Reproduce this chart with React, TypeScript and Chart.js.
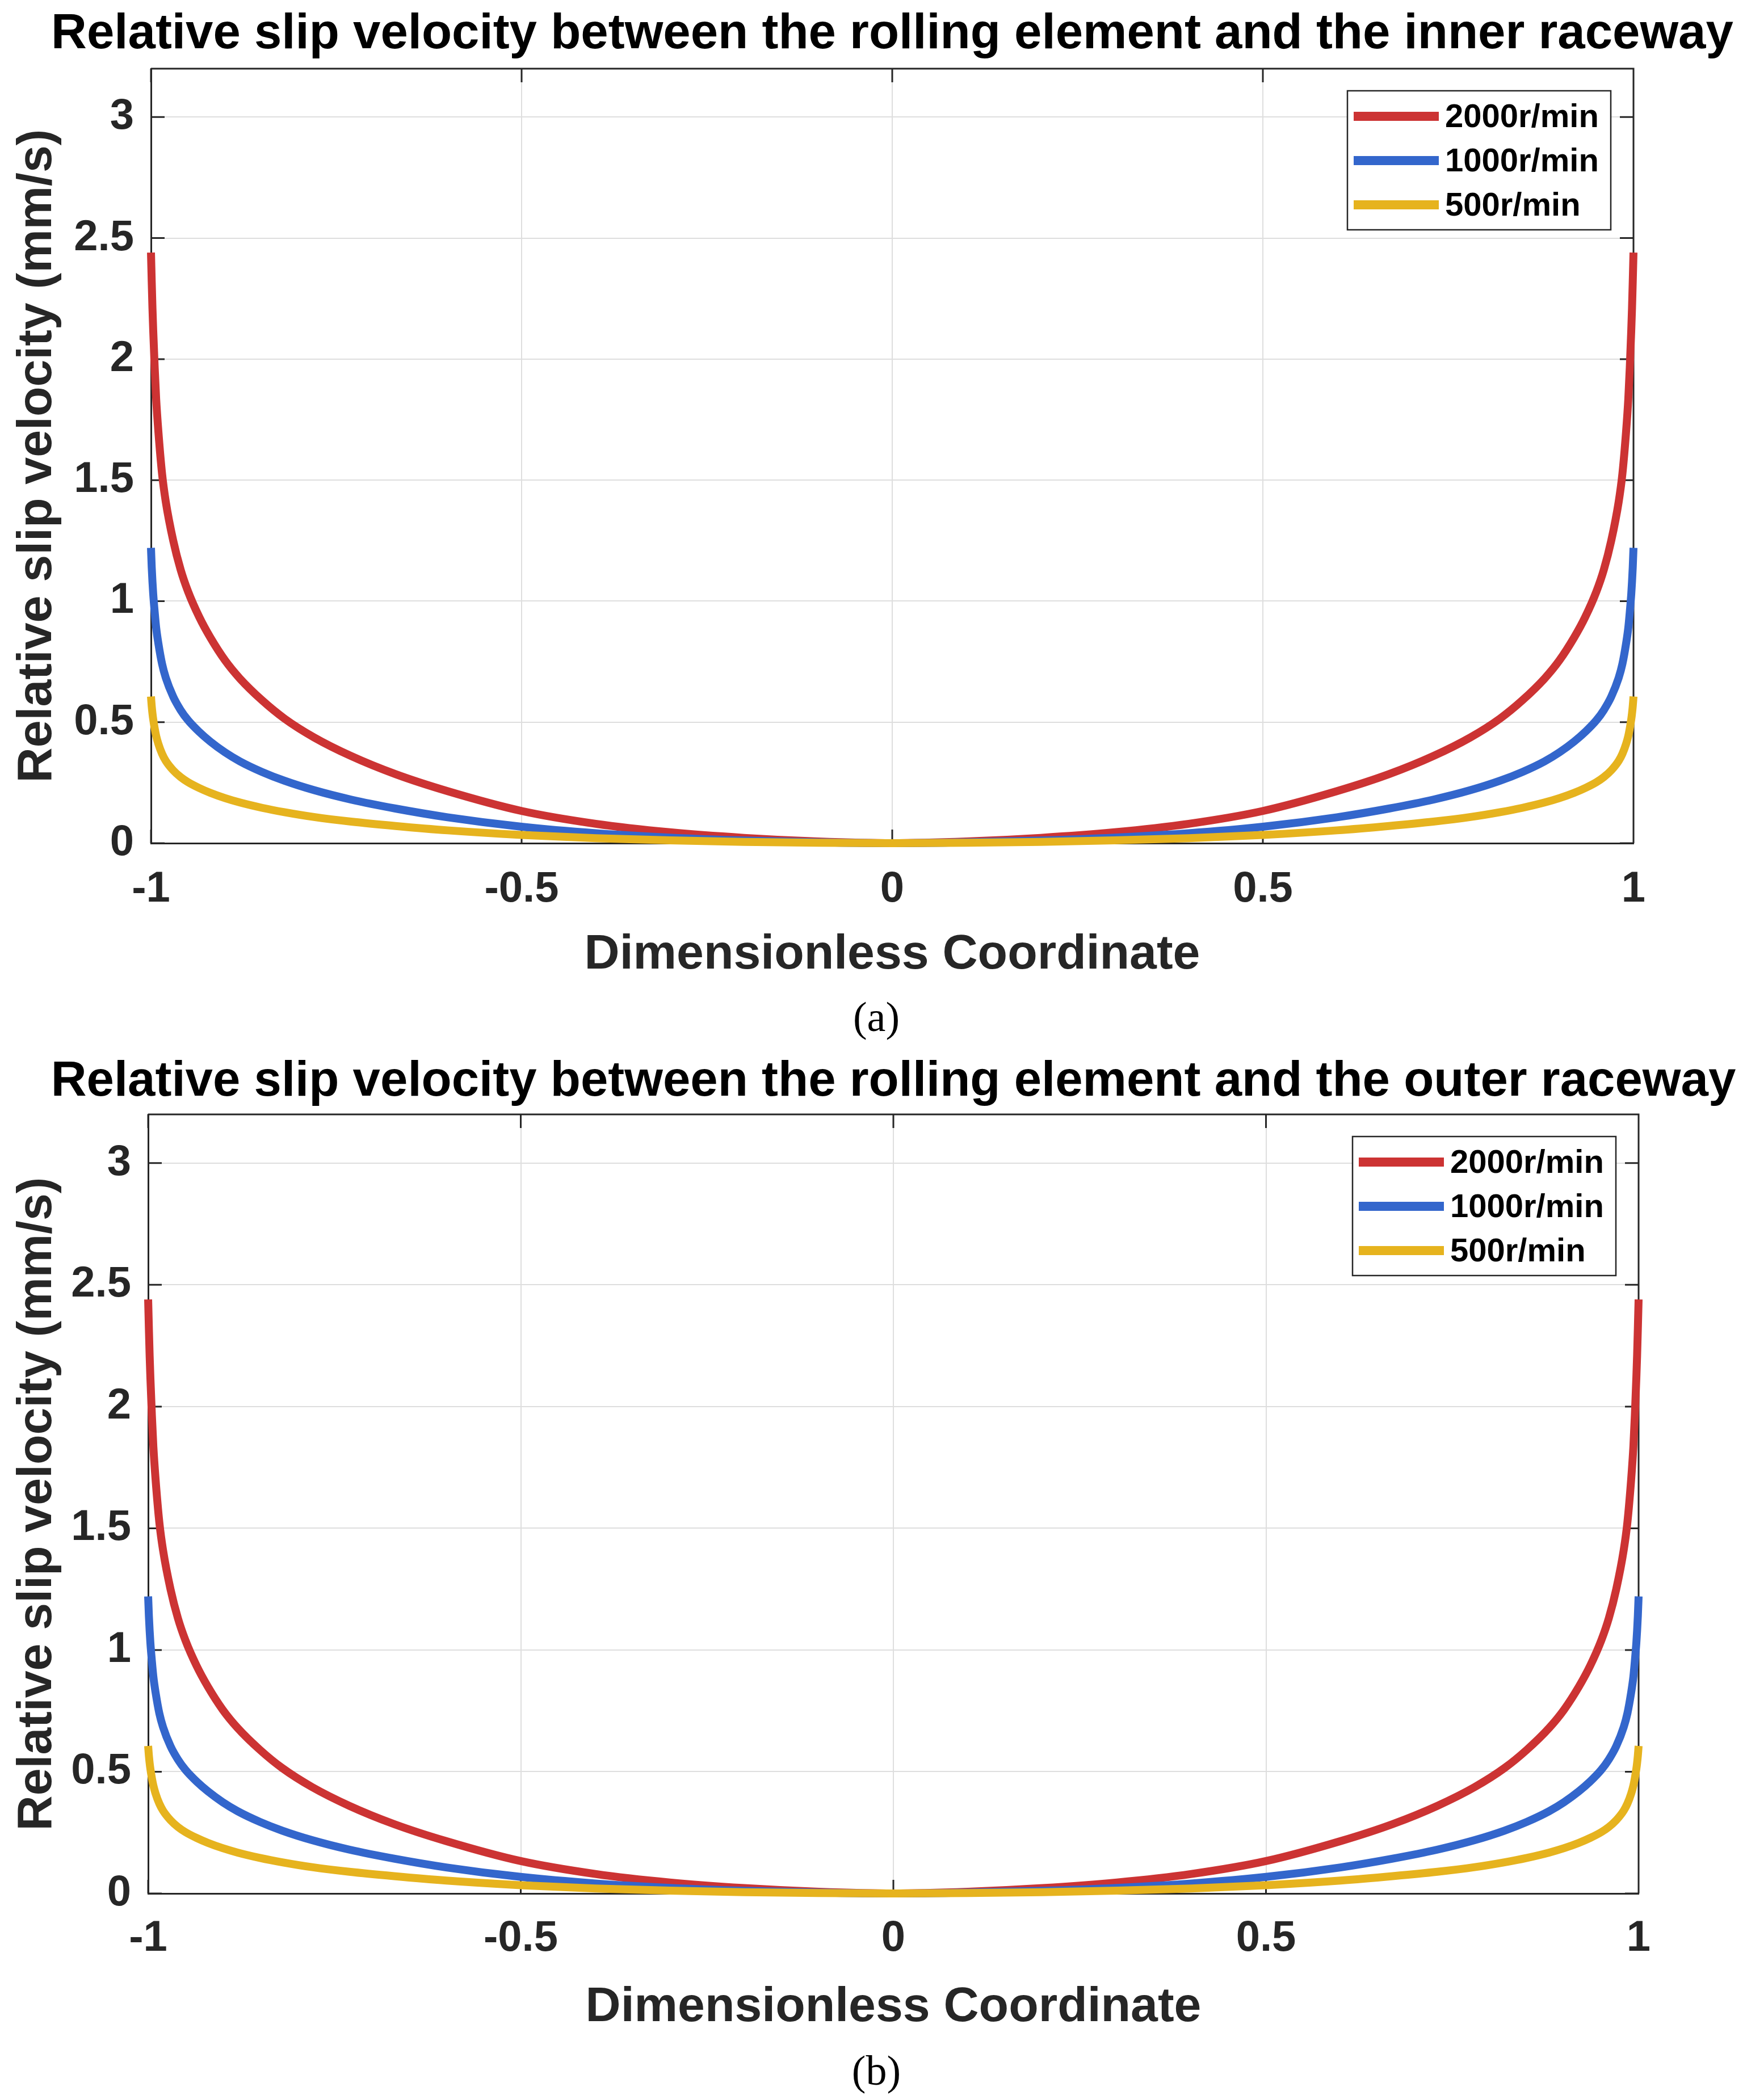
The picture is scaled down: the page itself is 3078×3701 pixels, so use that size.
import React, { useEffect, useRef } from 'react';
import Chart from 'chart.js/auto';

// values (both panels show the same curves)
const xCoord = [
  -1, -0.9995, -0.999, -0.998, -0.997, -0.995, -0.993, -0.99, -0.985, -0.98, -0.97, -0.96, -0.95, -0.935,
  -0.92, -0.9, -0.88, -0.85, -0.82, -0.78, -0.73, -0.67, -0.6, -0.5, -0.4, -0.3, -0.2, -0.1, 0,
  0.1, 0.2, 0.3, 0.4, 0.5, 0.6, 0.67, 0.73, 0.78, 0.82, 0.85, 0.88, 0.9, 0.92, 0.935, 0.95, 0.96, 0.97,
  0.98, 0.985, 0.99, 0.993, 0.995, 0.997, 0.998, 0.999, 0.9995, 1,
];

const rpm2000 = [
  2.44, 2.38, 2.32, 2.21, 2.12, 1.965, 1.835, 1.7, 1.525, 1.41, 1.25, 1.13, 1.04, 0.935,
  0.85, 0.755, 0.68, 0.59, 0.515, 0.437, 0.36, 0.285, 0.215, 0.133, 0.08, 0.045, 0.022, 0.007, 0,
  0.007, 0.022, 0.045, 0.08, 0.133, 0.215, 0.285, 0.36, 0.437, 0.515, 0.59, 0.68, 0.755, 0.85, 0.935, 1.04, 1.13, 1.25,
  1.41, 1.525, 1.7, 1.835, 1.965, 2.12, 2.21, 2.32, 2.38, 2.44,
];

const rpm1000 = [
  1.22, 1.18, 1.14, 1.08, 1.03, 0.955, 0.89, 0.825, 0.74, 0.683, 0.605, 0.55, 0.508, 0.46,
  0.42, 0.375, 0.338, 0.294, 0.258, 0.219, 0.18, 0.143, 0.107, 0.068, 0.041, 0.023, 0.011, 0.0035, 0,
  0.0035, 0.011, 0.023, 0.041, 0.068, 0.107, 0.143, 0.18, 0.219, 0.258, 0.294, 0.338, 0.375, 0.42, 0.46, 0.508, 0.55, 0.605,
  0.683, 0.74, 0.825, 0.89, 0.955, 1.03, 1.08, 1.14, 1.18, 1.22,
];

const rpm500 = [
  0.606, 0.585, 0.566, 0.536, 0.512, 0.474, 0.443, 0.41, 0.369, 0.34, 0.301, 0.273, 0.252, 0.228,
  0.208, 0.186, 0.168, 0.146, 0.128, 0.108, 0.089, 0.071, 0.053, 0.034, 0.0205, 0.0115, 0.0055, 0.0018, 0,
  0.0018, 0.0055, 0.0115, 0.0205, 0.034, 0.053, 0.071, 0.089, 0.108, 0.128, 0.146, 0.168, 0.186, 0.208, 0.228, 0.252, 0.273, 0.301,
  0.34, 0.369, 0.41, 0.443, 0.474, 0.512, 0.536, 0.566, 0.585, 0.606,
];

const seriesLabels = ['2000r/min', '1000r/min', '500r/min'];
const seriesColors = ['#CC3333', '#3366CC', '#E6B31E'];
const xTicks = [-1, -0.5, 0, 0.5, 1];
const yTicks = [0, 0.5, 1, 1.5, 2, 2.5, 3];

const FONT = "'Liberation Sans', Arial, Helvetica, sans-serif";
const AXIS = '#262626';
const GRID = '#DEDEDE';
const TICK_LEN = 24;

// box on all four sides with inward ticks, a title that is not squeezed, and a MATLAB-style legend
const framePlugin = {
  id: 'matlabFrame',
  beforeDatasetsDraw(chart: any) {
    const { ctx, chartArea: a, scales } = chart;
    ctx.save();
    ctx.strokeStyle = AXIS;
    ctx.lineWidth = 3;
    ctx.beginPath();
    ctx.moveTo(a.left, a.top);
    ctx.lineTo(a.right, a.top);
    ctx.lineTo(a.right, a.bottom);
    scales.y.ticks.forEach((t: any) => {
      const py = scales.y.getPixelForValue(t.value);
      ctx.moveTo(a.left, py);
      ctx.lineTo(a.left + TICK_LEN, py);
      ctx.moveTo(a.right, py);
      ctx.lineTo(a.right - TICK_LEN, py);
    });
    scales.x.ticks.forEach((t: any) => {
      const px = scales.x.getPixelForValue(t.value);
      ctx.moveTo(px, a.bottom);
      ctx.lineTo(px, a.bottom - TICK_LEN);
      ctx.moveTo(px, a.top);
      ctx.lineTo(px, a.top + TICK_LEN);
    });
    ctx.stroke();
    ctx.restore();
  },
  afterDatasetsDraw(chart: any, _args: any, opts: any) {
    const { ctx, chartArea: a } = chart;

    ctx.save();
    ctx.fillStyle = '#000000';
    ctx.font = `bold 87px ${FONT}`;
    ctx.textAlign = 'center';
    ctx.textBaseline = 'middle';
    ctx.fillText(opts.title, (a.left + a.right) / 2, opts.titleY);

    const w = 464;
    const h = 245;
    const left = a.right - 40 - w;
    const top = a.top + 39;
    ctx.fillStyle = '#ffffff';
    ctx.fillRect(left, top, w, h);
    ctx.strokeStyle = AXIS;
    ctx.lineWidth = 2.5;
    ctx.strokeRect(left, top, w, h);
    chart.data.datasets.forEach((ds: any, i: number) => {
      const y = top + 45 + i * 78;
      ctx.strokeStyle = ds.borderColor;
      ctx.lineWidth = 16;
      ctx.lineCap = 'butt';
      ctx.beginPath();
      ctx.moveTo(left + 11, y);
      ctx.lineTo(left + 161, y);
      ctx.stroke();
      ctx.fillStyle = '#000000';
      ctx.font = `bold 58px ${FONT}`;
      ctx.textBaseline = 'middle';
      ctx.textAlign = 'left';
      ctx.fillText(ds.label, left + 172, y + 3);
    });
    ctx.restore();
  },
};

interface PanelLayout {
  top: number;
  height: number;
  title: string;
  titleY: number;
  padTop: number;
  padRight: number;
  yWidth: number;
  xHeight: number;
  xTickPad: number;
  xTitlePad: number;
}

const panelA: PanelLayout = {
  top: 0,
  height: 1740,
  title: 'Relative slip velocity between the rolling element and the inner raceway',
  titleY: 61,
  padTop: 121,
  padRight: 200,
  yWidth: 266,
  xHeight: 254,
  xTickPad: 36,
  xTitlePad: 14,
};

const panelB: PanelLayout = {
  top: 1843,
  height: 1760,
  title: 'Relative slip velocity between the rolling element and the outer raceway',
  titleY: 64,
  padTop: 121,
  padRight: 191,
  yWidth: 261,
  xHeight: 266,
  xTickPad: 34,
  xTitlePad: 22,
};

const SlipPanel: React.FC<{ layout: PanelLayout }> = ({ layout }) => {
  const canvasRef = useRef<HTMLCanvasElement | null>(null);
  const chartRef = useRef<Chart | null>(null);

  useEffect(() => {
    if (!canvasRef.current) return;
    if (chartRef.current) chartRef.current.destroy();

    const series = [rpm2000, rpm1000, rpm500];
    const tickFont = { family: FONT, size: 76, weight: 'bold' as const };
    const titleFont = { family: FONT, size: 86, weight: 'bold' as const, lineHeight: 1 };

    chartRef.current = new Chart(canvasRef.current, {
      type: 'line',
      data: {
        datasets: series.map((vals, i) => ({
          label: seriesLabels[i],
          data: xCoord.map((x, j) => ({ x, y: vals[j] })),
          borderColor: seriesColors[i],
          backgroundColor: seriesColors[i],
          borderWidth: 14,
          pointRadius: 0,
          borderJoinStyle: 'round' as const,
          borderCapStyle: 'butt' as const,
          cubicInterpolationMode: 'monotone' as const,
          clip: 12,
          order: 3 - i,
        })),
      },
      options: {
        responsive: true,
        maintainAspectRatio: false,
        animation: false,
        layout: { padding: { left: 0, right: layout.padRight, top: layout.padTop, bottom: 0 } },
        scales: {
          x: {
            type: 'linear',
            min: -1,
            max: 1,
            afterBuildTicks: (s: any) => {
              s.ticks = xTicks.map((value) => ({ value }));
            },
            afterFit: (s: any) => {
              s.height = layout.xHeight;
            },
            grid: { color: GRID, lineWidth: 2, drawTicks: false },
            border: { color: AXIS, width: 3 },
            ticks: {
              color: AXIS,
              font: tickFont,
              padding: layout.xTickPad,
              maxRotation: 0,
              autoSkip: false,
              callback: (v: any) => String(v),
            },
            title: {
              display: true,
              text: 'Dimensionless Coordinate',
              color: AXIS,
              font: titleFont,
              padding: { top: 0, bottom: layout.xTitlePad },
            },
          },
          y: {
            type: 'linear',
            min: 0,
            max: 3.2,
            afterBuildTicks: (s: any) => {
              s.ticks = yTicks.map((value) => ({ value }));
            },
            afterFit: (s: any) => {
              s.width = layout.yWidth;
            },
            grid: { color: GRID, lineWidth: 2, drawTicks: false },
            border: { color: AXIS, width: 3 },
            ticks: {
              color: AXIS,
              font: tickFont,
              padding: 30,
              callback: (v: any) => String(v),
            },
            title: {
              display: true,
              text: 'Relative slip velocity (mm/s)',
              color: AXIS,
              font: titleFont,
              padding: { top: 23, bottom: 0 },
            },
          },
        },
        plugins: {
          title: { display: false },
          legend: { display: false },
          tooltip: { enabled: false },
          matlabFrame: { title: layout.title, titleY: layout.titleY },
        } as any,
      },
      plugins: [framePlugin],
    });

    return () => {
      chartRef.current?.destroy();
      chartRef.current = null;
    };
  }, [layout]);

  return (
    <div style={{ position: 'absolute', left: 0, top: layout.top, width: 3078, height: layout.height }}>
      <canvas ref={canvasRef} />
    </div>
  );
};

const Caption: React.FC<{ text: string; centerY: number }> = ({ text, centerY }) => (
  <div
    style={{
      position: 'absolute',
      left: 0,
      width: 3088,
      top: centerY - 38,
      height: 76,
      lineHeight: '76px',
      fontSize: 74,
      fontFamily: "'Liberation Serif', 'Times New Roman', serif",
      textAlign: 'center',
      color: '#000',
    }}
  >
    {text}
  </div>
);

export default function App() {
  return (
    <div style={{ position: 'absolute', left: 0, top: 0, width: 3078, height: 3701, background: '#ffffff' }}>
      <SlipPanel layout={panelA} />
      <Caption text="(a)" centerY={1792} />
      <SlipPanel layout={panelB} />
      <Caption text="(b)" centerY={3649} />
    </div>
  );
}
